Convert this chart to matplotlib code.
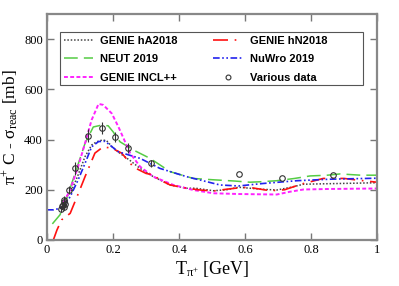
import matplotlib
matplotlib.use("Agg")
import matplotlib.pyplot as plt
from matplotlib.lines import Line2D
from matplotlib.patches import Rectangle

plt.rcParams['font.family'] = 'Liberation Serif'
plt.rcParams['mathtext.fontset'] = 'custom'
plt.rcParams['mathtext.rm'] = 'Liberation Serif'
plt.rcParams['mathtext.it'] = 'Liberation Serif:italic'

# GENIE hA2018
ha_x = [0.05, 0.06, 0.075, 0.094, 0.115, 0.135, 0.15, 0.167, 0.18, 0.197, 0.221, 0.25, 0.282, 0.322, 0.373,
        0.423, 0.45, 0.504, 0.544, 0.58, 0.615, 0.65, 0.696, 0.74, 0.777, 0.85, 0.93, 1.0]
ha_y = [150, 175, 199, 259, 332, 378, 391, 398, 396, 371, 345, 318, 285, 252, 219,
        206, 206, 196, 200, 210, 206, 202, 199, 210, 222, 224, 226, 228]

# GENIE hN2018
hn_x = [0.019, 0.03, 0.044, 0.07, 0.095, 0.115, 0.145, 0.17, 0.197, 0.226, 0.262, 0.3, 0.322, 0.342, 0.373,
        0.423, 0.464, 0.504, 0.544, 0.57, 0.61, 0.676, 0.72, 0.772, 0.837, 0.9, 0.938, 1.0]
hn_y = [0, 40, 80, 106, 186, 252, 346, 371, 365, 346, 290, 265, 259, 239, 219,
        206, 199, 195, 202, 206, 210, 196, 200, 223, 245, 245, 239, 230]

# NEUT 2019
neut_x = [0.016, 0.039, 0.055, 0.075, 0.095, 0.115, 0.14, 0.16, 0.185, 0.2, 0.221, 0.262, 0.312, 0.373,
          0.443, 0.5, 0.565, 0.615, 0.65, 0.696, 0.75, 0.797, 0.85, 0.888, 0.95, 1.0]
neut_y = [64, 100, 146, 226, 305, 385, 450, 456, 455, 431, 391, 358, 325, 272,
          245, 240, 235, 230, 232, 236, 245, 255, 258, 263, 258, 258]

# NuWro 2019
nuwro_x = [0.0, 0.02, 0.039, 0.055, 0.07, 0.094, 0.115, 0.135, 0.156, 0.176, 0.216, 0.282, 0.342,
           0.423, 0.524, 0.58, 0.655, 0.757, 0.858, 1.0]
nuwro_y = [120, 120, 126, 145, 172, 239, 305, 371, 392, 393, 351, 325, 285,
           252, 219, 215, 225, 236, 242, 246]

# GENIE INCL++
incl_x = [0.05, 0.07, 0.094, 0.115, 0.135, 0.156, 0.17, 0.196, 0.216, 0.252, 0.282, 0.322, 0.383,
          0.443, 0.504, 0.58, 0.696, 0.736, 0.777, 0.85, 1.0]
incl_y = [150, 199, 292, 385, 478, 542, 538, 504, 451, 345, 292, 252, 219,
          199, 186, 183, 181, 192, 201, 203, 205]

# Various data
data_x = [0.042, 0.045, 0.048, 0.05, 0.052, 0.055, 0.05, 0.065, 0.085, 0.125, 0.165, 0.205, 0.245, 0.315,
          0.583, 0.711, 0.868]
data_y = [125, 135, 140, 150, 160, 145, 130, 200, 285, 415, 445, 410, 365, 305, 263, 245, 259]
data_err = [12, 12, 12, 15, 15, 12, 12, 15, 25, 25, 23, 20, 20, 15, 0, 0, 0]

labels = ['GENIE hA2018', 'NEUT 2019', 'GENIE INCL++', 'GENIE hN2018', 'NuWro 2019', 'Various data']

fig = plt.figure(figsize=(3.99, 2.86), dpi=100)
ax = fig.add_axes([0.118, 0.161, 0.827, 0.79])

h1, = ax.plot(ha_x, ha_y, color='#444444', ls=(0, (1, 1.2)), lw=1.1)
h2, = ax.plot(neut_x, neut_y, color='#55cc44', ls=(0, (9, 4)), lw=1.1)
h3, = ax.plot(incl_x, incl_y, color='#ff22ff', ls=(0, (2, 1.2)), lw=1.4)
h4, = ax.plot(hn_x, hn_y, color='#ff1111', ls=(0, (9, 4, 1, 4)), lw=1.2)
h5, = ax.plot(nuwro_x, nuwro_y, color='#2222ee', ls=(0, (4, 1.5, 1, 1.5, 1, 1.5)), lw=1.2)
ax.errorbar(data_x, data_y, yerr=data_err, fmt='o', mfc='none', mec='#333333', ecolor='#333333',
            ms=4, mew=0.8, elinewidth=0.8, capsize=0)
h6 = Line2D([], [], ls='none', marker='o', mfc='none', mec='#333333', ms=3.5, mew=0.8)

ax.set_xlim(0, 1)
ax.set_ylim(0, 900)
ax.set_xticks([0, 0.2, 0.4, 0.6, 0.8, 1.0])
ax.set_xticklabels(['0', '0.2', '0.4', '0.6', '0.8', '1'])
ax.set_yticks([0, 200, 400, 600, 800])
ax.tick_params(direction='in', length=5, width=1, color='#777777', top=True, right=True, labelsize=9,
               pad=3)
for sp in ax.spines.values():
    sp.set_color('#888888')
    sp.set_linewidth(1.6)

ax.set_xlabel(r'$\mathrm{T_{\pi^{+}}}$ [GeV]', fontsize=13, labelpad=2)
ax.set_ylabel(r'$\mathrm{\pi^{+}}$ C - $\mathrm{\sigma_{reac}}$ [mb]', fontsize=12.5, labelpad=2)

# legend box drawn separately so it can be wider than the entries
box = Rectangle((0.039, 0.684), 0.919, 0.238, transform=ax.transAxes, facecolor='white',
                edgecolor='#555555', lw=0.8, zorder=4.5)
ax.add_patch(box)
leg = ax.legend([h1, h2, h3, h4, h5, h6], labels,
                ncol=2, loc='upper left', bbox_to_anchor=(0.035, 0.925), frameon=False,
                prop={'family': 'Liberation Sans', 'weight': 'bold', 'size': 8},
                handlelength=2.6, handletextpad=0.7, columnspacing=3.2, labelspacing=0.75,
                borderpad=0.45, borderaxespad=0)

fig.savefig('out.png', dpi=100)
